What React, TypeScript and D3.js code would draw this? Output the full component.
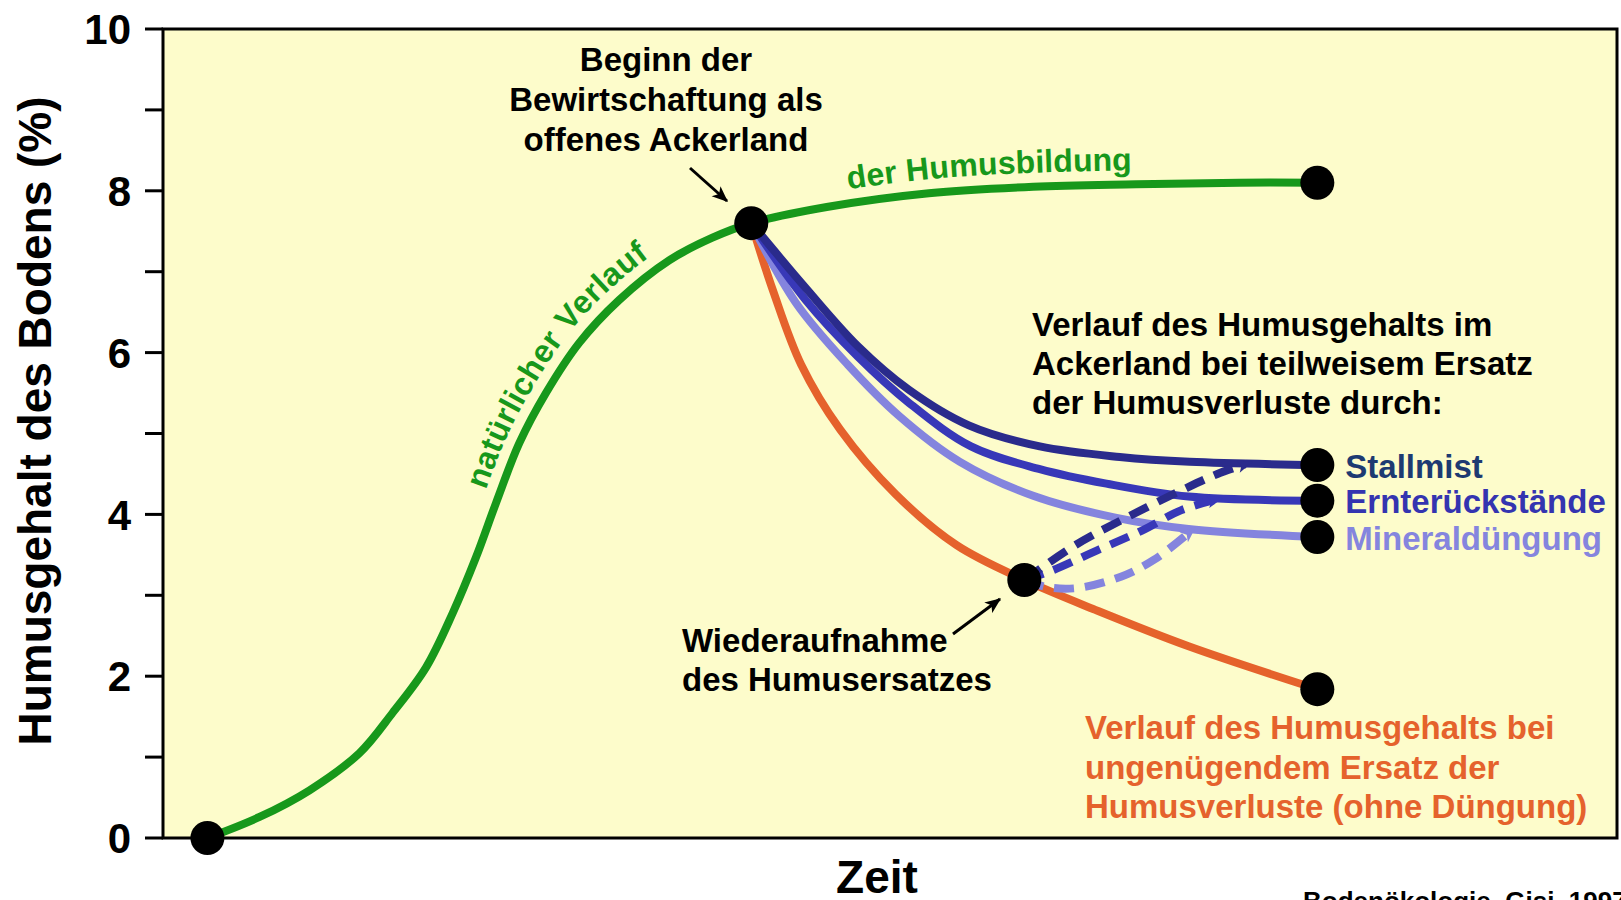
import React from "react";
import * as d3 from "d3";

const W = 1621;
const H = 900;

// y axis ticks (%)
const yTickValues = [0, 1, 2, 3, 4, 5, 6, 7, 8, 9, 10];
const yTickLabels = ["0", "", "2", "", "4", "", "6", "", "8", "", "10"];

// natural course of humus formation (time in arbitrary units 0..100)
const naturalTime = [0, 4.7, 9.2, 13.7, 16.7, 19.7, 22.1, 24.2, 26.0, 28.1, 30.5, 33.5, 37.1, 41.6, 45.5, 49.0, 55.8, 65.0, 74.4, 83.7, 93.0, 100];
const naturalHumus = [0, 0.26, 0.59, 1.05, 1.55, 2.11, 2.78, 3.47, 4.14, 4.88, 5.5, 6.12, 6.65, 7.14, 7.42, 7.6, 7.8, 7.97, 8.05, 8.08, 8.1, 8.1];

// arable land with partial replacement
const stallmistTime = [49, 53.9, 58.6, 63.2, 68.6, 75.0, 82.2, 88.5, 100];
const stallmistHumus = [7.6, 6.8, 6.08, 5.54, 5.1, 4.84, 4.71, 4.65, 4.61];
const ernteTime = [49, 53.9, 58.6, 63.2, 68.8, 75.0, 81.0, 88.4, 100];
const ernteHumus = [7.6, 6.65, 5.95, 5.38, 4.84, 4.56, 4.38, 4.22, 4.17];
const mineralTime = [49, 53.0, 57.7, 62.3, 67.8, 74.4, 81.8, 88.4, 100];
const mineralHumus = [7.6, 6.62, 5.85, 5.22, 4.65, 4.23, 3.96, 3.82, 3.72];
// insufficient replacement (no fertilisation)
const ohneTime = [49, 51.0, 53.5, 57.0, 62.0, 67.5, 73.6, 80.0, 88.4, 100];
const ohneHumus = [7.6, 6.75, 5.85, 5.05, 4.25, 3.62, 3.19, 2.82, 2.37, 1.84];

// resumption of humus replacement (dashed)
const stallmistDashTime = [73.6, 78.2, 82.8, 87.8, 91.0, 93.5];
const stallmistDashHumus = [3.19, 3.62, 3.96, 4.3, 4.5, 4.62];
const ernteDashTime = [73.6, 76.0, 80.4, 84.2, 87.7, 90.8];
const ernteDashHumus = [3.19, 3.3, 3.57, 3.8, 4.05, 4.18];
const mineralDashTime = [73.6, 75.7, 78.4, 82.3, 85.3, 88.5];
const mineralDashHumus = [3.19, 3.1, 3.09, 3.23, 3.44, 3.78];

// key points (dots)
const dotTime = [0, 49, 100, 73.6, 100, 100, 100, 100];
const dotHumus = [0, 7.6, 8.1, 3.19, 4.61, 4.17, 3.72, 1.84];

const endLabels = ["Stallmist", "Ernterückstände", "Mineraldüngung"];
const endLabelHumus = [4.61, 4.17, 3.72];

const FONT = "'Liberation Sans', Arial, Helvetica, sans-serif";
const GREEN = "#17981b";
const NAVY = "#2a2b8c";
const MID = "#3838b8";
const LIGHT = "#8484de";
const ORANGE = "#e5622c";
const BG = "#fdfccb";

const zip = (t: number[], v: number[]) => t.map((ti, i) => [ti, v[i]] as [number, number]);

export default function App() {
  const x = d3.scaleLinear().domain([-4, 127]).range([163, 1617]);
  const y = d3.scaleLinear().domain([0, 10]).range([838, 29]);
  const line = d3
    .line<[number, number]>()
    .x((d) => x(d[0]))
    .y((d) => y(d[1]))
    .curve(d3.curveCatmullRom.alpha(0.5));

  const [x0, x1] = x.range();
  const [yb, yt] = y.range();

  const labelColors = ["#1d3a72", "#3434b0", "#8585de"];

  return (
    <svg
      width={W}
      height={H}
      viewBox={`0 0 ${W} ${H}`}
      style={{ position: "absolute", left: 0, top: 0, display: "block", background: "#fff" }}
      fontFamily={FONT}
      fontWeight="bold"
    >
      <defs>
        <marker id="arrowBlack" viewBox="0 0 12 10" refX="11" refY="5" markerWidth="16" markerHeight="14" markerUnits="userSpaceOnUse" orient="auto">
          <path d="M0,0 L12,5 L0,10 L3,5 z" fill="#000" />
        </marker>
        {[["aNavy", NAVY], ["aMid", MID], ["aLight", LIGHT]].map(([id, c]) => (
          <marker key={id} id={id} viewBox="0 0 12 10" refX="6" refY="5" markerWidth="16" markerHeight="13" markerUnits="userSpaceOnUse" orient="auto">
            <path d="M0,0 L12,5 L0,10 L3,5 z" fill={c} />
          </marker>
        ))}
      </defs>
      <rect x={0} y={0} width={W} height={H} fill="#ffffff" />
      {/* plot area */}
      <rect x={x0} y={yt} width={x1 - x0} height={yb - yt} fill={BG} stroke="#000" strokeWidth={3} />

      {/* y ticks */}
      {yTickValues.map((v, i) => (
        <g key={v}>
          <line x1={x0 - 18} x2={x0} y1={y(v)} y2={y(v)} stroke="#000" strokeWidth={3} />
          {yTickLabels[i] && (
            <text x={x0 - 32} y={y(v)} dy="0.36em" textAnchor="end" fontSize={42} fill="#000">
              {yTickLabels[i]}
            </text>
          )}
        </g>
      ))}

      {/* axis titles */}
      <text transform={`translate(51,421) rotate(-90)`} textAnchor="middle" fontSize={46} fill="#000">
        Humusgehalt des Bodens (%)
      </text>
      <text x={877} y={893} textAnchor="middle" fontSize={46} fill="#000">
        Zeit
      </text>

      {/* curves */}
      <path d={line(zip(ohneTime, ohneHumus)) || ""} fill="none" stroke={ORANGE} strokeWidth={8} />
      <path d={line(zip(mineralTime, mineralHumus)) || ""} fill="none" stroke={LIGHT} strokeWidth={8} />
      <path d={line(zip(ernteTime, ernteHumus)) || ""} fill="none" stroke={MID} strokeWidth={8} />
      <path d={line(zip(stallmistTime, stallmistHumus)) || ""} fill="none" stroke={NAVY} strokeWidth={8} />
      <path id="greenPath" d={line(zip(naturalTime, naturalHumus)) || ""} fill="none" stroke={GREEN} strokeWidth={8} />

      <path d={line(zip(mineralDashTime, mineralDashHumus)) || ""} fill="none" stroke={LIGHT} strokeWidth={8} strokeDasharray="20 11" markerEnd="url(#aLight)" />
      <path d={line(zip(ernteDashTime, ernteDashHumus)) || ""} fill="none" stroke={MID} strokeWidth={8} strokeDasharray="20 11" markerEnd="url(#aMid)" />
      <path d={line(zip(stallmistDashTime, stallmistDashHumus)) || ""} fill="none" stroke={NAVY} strokeWidth={8} strokeDasharray="20 11" markerEnd="url(#aNavy)" />

      {/* dots */}
      {dotTime.map((t, i) => (
        <circle key={i} cx={x(t)} cy={y(dotHumus[i])} r={17} fill="#000" />
      ))}

      {/* green labels along curve */}
      <text fontSize={32} fill={GREEN}>
        <textPath href="#greenPath" startOffset={612} textAnchor="middle">
          <tspan dy={-14}>natürlicher Verlauf</tspan>
        </textPath>
      </text>
      <text fontSize={32} fill={GREEN}>
        <textPath href="#greenPath" startOffset={958} textAnchor="start">
          <tspan dy={-14}>der Humusbildung</tspan>
        </textPath>
      </text>

      {/* annotation: Beginn */}
      <g fontSize={33} fill="#000" textAnchor="middle">
        <text x={666} y={71}>Beginn der</text>
        <text x={666} y={111}>Bewirtschaftung als</text>
        <text x={666} y={151}>offenes Ackerland</text>
      </g>
      <line x1={690} y1={168} x2={727} y2={201} stroke="#000" strokeWidth={3} markerEnd="url(#arrowBlack)" />

      {/* annotation: Verlauf im Ackerland */}
      <g fontSize={33} fill="#000">
        <text x={1032} y={336}>Verlauf des Humusgehalts im</text>
        <text x={1032} y={375}>Ackerland bei teilweisem Ersatz</text>
        <text x={1032} y={414}>der Humusverluste durch:</text>
      </g>

      {endLabels.map((l, i) => (
        <text key={l} x={x(100) + 28} y={y(endLabelHumus[i]) + 12.5} fontSize={33} fill={labelColors[i]}>
          {l}
        </text>
      ))}

      {/* annotation: Wiederaufnahme */}
      <g fontSize={33} fill="#000">
        <text x={682} y={652}>Wiederaufnahme</text>
        <text x={682} y={691}>des Humusersatzes</text>
      </g>
      <line x1={953} y1={634} x2={1000} y2={599} stroke="#000" strokeWidth={3} markerEnd="url(#arrowBlack)" />

      {/* annotation: ohne Düngung */}
      <g fontSize={33} fill={ORANGE}>
        <text x={1085} y={739}>Verlauf des Humusgehalts bei</text>
        <text x={1085} y={779}>ungenügendem Ersatz der</text>
        <text x={1085} y={818}>Humusverluste (ohne Düngung)</text>
      </g>

      {/* source */}
      <text x={1303} y={910} fontSize={26} fill="#000">
        Bodenökologie, Gisi, 1997
      </text>
    </svg>
  );
}
